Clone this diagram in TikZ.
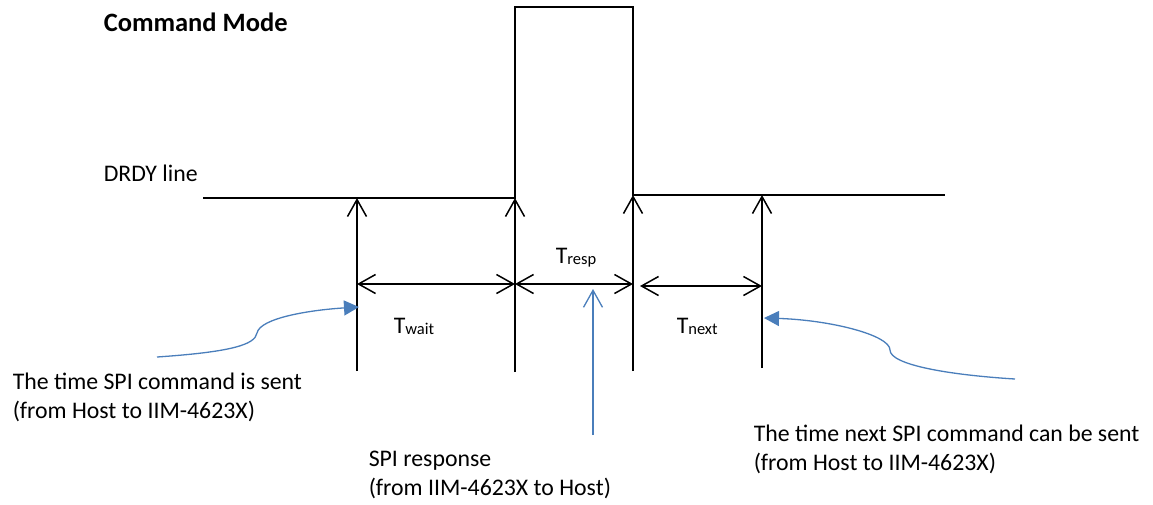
\documentclass[tikz,border=0pt]{standalone}
\usepackage{fontspec}
\setmainfont{Carlito}
\usetikzlibrary{arrows.meta}
\definecolor{drdyBlack}{HTML}{000000}
\definecolor{pointerBlue}{HTML}{4A7EBB}
\newcommand{\tsub}[1]{{\fontsize{16.5}{16.5}\selectfont\raisebox{-1.5pt}{#1}}}

\begin{document}
\begin{tikzpicture}[x=1pt, y=-1pt, line width=1.5pt,
    every node/.style={inner sep=0pt, font=\fontsize{23.8}{28.7}\selectfont},
    tick/.style={-{Straight Barb[length=17pt, width=19pt]}},
    span/.style={{Straight Barb[length=17pt, width=19pt]}-{Straight Barb[length=17pt, width=19pt]}},
    pointer/.style={pointerBlue, line width=1.3pt}]
    \useasboundingbox (0, 0) rectangle (1153, 504);

    \node[anchor=base west, font=\bfseries\fontsize{26.5}{30}\selectfont] (title) at (103, 31) {Command Mode};
    \node[anchor=base west] (drdy) at (103, 181) {DRDY line};

    \draw[drdyBlack] (203, 198) -- (515, 198) -- (515, 7) -- (633, 7) -- (633, 195) -- (945, 195);

    \draw[tick] (357, 371) coordinate (sendFoot) -- (357, 198) coordinate (send);
    \draw[tick] (515, 372) -- (515, 198) coordinate (rise);
    \draw[tick] (633, 371) -- (633, 195) coordinate (fall);
    \draw[tick] (762, 368) coordinate (nextFoot) -- (762, 195) coordinate (next);

    \draw[span] (357, 284) -- (515, 284);
    \draw[span] (515, 284) -- (633, 284);
    \draw[span] (640, 286) -- (762, 286);
    \node[anchor=base west] (twait) at (393, 333) {T\tsub{wait}};
    \node[anchor=base west] (tresp) at (555, 263) {T\tsub{resp}};
    \node[anchor=base west] (tnext) at (676, 333) {T\tsub{next}};

    \node[anchor=base west, align=left] (sentText) at (12, 418) {The time SPI command is sent\\(from Host to IIM-4623X)};
    \node[anchor=base west, align=left] (respText) at (368, 495) {SPI response\\(from IIM-4623X to Host)};
    \node[anchor=base west, align=left] (nextText) at (753, 470) {The time next SPI command can be sent\\(from Host to IIM-4623X)};

    \draw[pointer, -{Triangle[length=15pt, width=15pt]}] (157, 357) .. controls (230, 352) and (255, 345) .. (257, 333) .. controls (260, 318) and (310, 310) .. (359, 307);
    \draw[pointer, -{Triangle[length=15pt, width=15pt]}] (1015, 379) .. controls (950, 375) and (890, 365) .. (890, 350) .. controls (890, 335) and (830, 320) .. (764, 318);
    \draw[pointer, -{Straight Barb[length=17pt, width=19pt]}] (593, 435) -- (593, 289);
\end{tikzpicture}
\end{document}
